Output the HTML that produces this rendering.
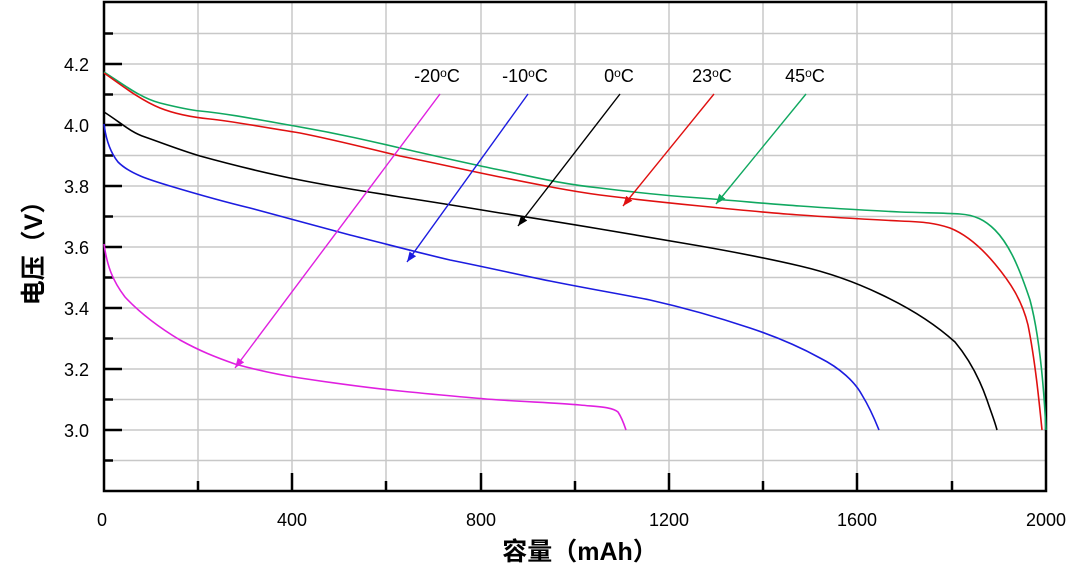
<!DOCTYPE html>
<html><head><meta charset="utf-8"><style>body{margin:0;background:#fff}svg{display:block}</style></head><body>
<svg width="1080" height="575" viewBox="0 0 1080 575" xmlns="http://www.w3.org/2000/svg" font-family="Liberation Sans, Noto Sans CJK SC, sans-serif">
<defs>
<marker id="am" markerWidth="12" markerHeight="12" refX="10" refY="5" orient="auto" markerUnits="userSpaceOnUse"><path d="M0,1 L10,5 L0,9 z" fill="#e020e0"/></marker>
<marker id="ab" markerWidth="12" markerHeight="12" refX="10" refY="5" orient="auto" markerUnits="userSpaceOnUse"><path d="M0,1 L10,5 L0,9 z" fill="#1c1ce0"/></marker>
<marker id="ak" markerWidth="12" markerHeight="12" refX="10" refY="5" orient="auto" markerUnits="userSpaceOnUse"><path d="M0,1 L10,5 L0,9 z" fill="#000"/></marker>
<marker id="ar" markerWidth="12" markerHeight="12" refX="10" refY="5" orient="auto" markerUnits="userSpaceOnUse"><path d="M0,1 L10,5 L0,9 z" fill="#e01010"/></marker>
<marker id="ag" markerWidth="12" markerHeight="12" refX="10" refY="5" orient="auto" markerUnits="userSpaceOnUse"><path d="M0,1 L10,5 L0,9 z" fill="#10a860"/></marker>
</defs>
<g stroke="#c8c8c8" stroke-width="1.5">
<line x1="198" y1="3" x2="198" y2="491"/><line x1="292" y1="3" x2="292" y2="491"/><line x1="386" y1="3" x2="386" y2="491"/><line x1="481" y1="3" x2="481" y2="491"/><line x1="575" y1="3" x2="575" y2="491"/><line x1="669" y1="3" x2="669" y2="491"/><line x1="763" y1="3" x2="763" y2="491"/><line x1="857" y1="3" x2="857" y2="491"/><line x1="952" y1="3" x2="952" y2="491"/>
<line x1="104" y1="33.5" x2="1046" y2="33.5"/><line x1="104" y1="64" x2="1046" y2="64"/><line x1="104" y1="94.5" x2="1046" y2="94.5"/><line x1="104" y1="125" x2="1046" y2="125"/><line x1="104" y1="155.5" x2="1046" y2="155.5"/><line x1="104" y1="186" x2="1046" y2="186"/><line x1="104" y1="216.5" x2="1046" y2="216.5"/><line x1="104" y1="247" x2="1046" y2="247"/><line x1="104" y1="277.5" x2="1046" y2="277.5"/><line x1="104" y1="308" x2="1046" y2="308"/><line x1="104" y1="338.5" x2="1046" y2="338.5"/><line x1="104" y1="369" x2="1046" y2="369"/><line x1="104" y1="399.5" x2="1046" y2="399.5"/><line x1="104" y1="430" x2="1046" y2="430"/><line x1="104" y1="460.5" x2="1046" y2="460.5"/>
</g>
<rect x="104" y="2" width="942" height="489" fill="none" stroke="#000" stroke-width="2.5"/>
<g stroke="#000" stroke-width="2.5">
<path d="M104,33.5h9M104,64h18M104,94.5h9M104,125h18M104,155.5h9M104,186h18M104,216.5h9M104,247h18M104,277.5h9M104,308h18M104,338.5h9M104,369h18M104,399.5h9M104,430h18M104,460.5h9"/>
<path d="M198,491v-10M292,491v-18M386,491v-10M481,491v-18M575,491v-10M669,491v-18M763,491v-10M857,491v-18M952,491v-10"/>
</g>
<g font-size="18" fill="#000" text-anchor="end">
<text x="89" y="71">4.2</text><text x="89" y="132">4.0</text><text x="89" y="193">3.8</text><text x="89" y="254">3.6</text><text x="89" y="315">3.4</text><text x="89" y="376">3.2</text><text x="89" y="437">3.0</text>
</g>
<g font-size="18" fill="#000" text-anchor="middle">
<text x="102" y="526">0</text><text x="292" y="526">400</text><text x="481" y="526">800</text><text x="669" y="526">1200</text><text x="857" y="526">1600</text><text x="1046" y="526">2000</text>
</g>
<text x="580" y="560" font-size="25" font-weight="bold" text-anchor="middle">容量（mAh）</text>
<text transform="translate(42,247) rotate(-90)" font-size="25" font-weight="bold" text-anchor="middle">电压（V）</text>
<g fill="none" stroke-width="1.6" stroke-linejoin="round">
<path stroke="#10a860" d="M104,72 C120,82 140,98 160,103 C180,108 190,110 200,111 C230,114 260,120 300,127 C340,134 370,141 400,148 C440,157 470,164 500,170 C530,176 560,184 600,188 C640,193 670,196 700,198 C740,201 770,204 800,206 C840,209 880,211 900,212 C930,213 945,213 960,214 C975,215 985,220 995,230 C1010,245 1020,270 1030,300 C1038,330 1043,370 1046,430"/>
<path stroke="#e01010" d="M104,73 C120,84 140,100 160,108 C175,114 190,117 210,119 C230,121 250,125 300,133 C340,141 370,149 400,156 C440,164 470,171 500,177 C540,185 570,191 600,195 C640,200 670,203 700,206 C740,210 770,213 800,215 C840,218 880,220 900,221 C925,222 935,223 950,228 C965,234 980,246 995,264 C1010,282 1022,300 1028,325 C1035,360 1039,400 1042,430"/>
<path stroke="#000" d="M104,112 C120,122 130,132 145,137 C165,144 180,150 200,156 C240,167 270,174 300,180 C340,188 370,192 400,197 C440,203 470,208 500,213 C540,219 570,224 600,229 C640,236 670,241 700,246 C740,253 770,259 800,266 C830,273 855,282 880,294 C910,308 935,324 955,342 C970,360 980,380 987,400 C991,412 995,422 997,430"/>
<path stroke="#1c1ce0" d="M104,124 C106,140 110,152 118,162 C130,174 150,180 170,186 C200,195 225,202 250,208 C290,219 320,227 350,235 C390,245 420,253 450,260 C490,268 520,275 550,281 C590,289 620,294 650,300 C690,309 720,318 750,328 C780,338 800,347 820,358 C840,368 855,382 862,395 C870,408 875,420 879,430"/>
<path stroke="#e020e0" d="M104,244 C107,265 112,280 125,297 C140,313 160,328 180,340 C200,351 215,357 235,364 C260,371 280,375 300,378 C340,384 370,388 400,391 C440,395 470,398 500,400 C530,402 560,403 580,405 C600,407 612,407 618,412 C622,418 624,424 626,430"/>
</g>
<g stroke-width="1.4">
<line x1="440" y1="94" x2="235" y2="368" stroke="#e020e0" marker-end="url(#am)"/>
<line x1="528" y1="94" x2="407" y2="262" stroke="#1c1ce0" marker-end="url(#ab)"/>
<line x1="620" y1="94" x2="518" y2="226" stroke="#000" marker-end="url(#ak)"/>
<line x1="714" y1="94" x2="623" y2="206" stroke="#e01010" marker-end="url(#ar)"/>
<line x1="806" y1="94" x2="716" y2="204" stroke="#10a860" marker-end="url(#ag)"/>
</g>
<g font-size="18" fill="#000" text-anchor="middle">
<text x="437" y="82">-20<tspan font-size="12" dy="-5">o</tspan><tspan dy="5">C</tspan></text>
<text x="525" y="82">-10<tspan font-size="12" dy="-5">o</tspan><tspan dy="5">C</tspan></text>
<text x="619" y="82">0<tspan font-size="12" dy="-5">o</tspan><tspan dy="5">C</tspan></text>
<text x="712" y="82">23<tspan font-size="12" dy="-5">o</tspan><tspan dy="5">C</tspan></text>
<text x="805" y="82">45<tspan font-size="12" dy="-5">o</tspan><tspan dy="5">C</tspan></text>
</g>
</svg>
</body></html>
